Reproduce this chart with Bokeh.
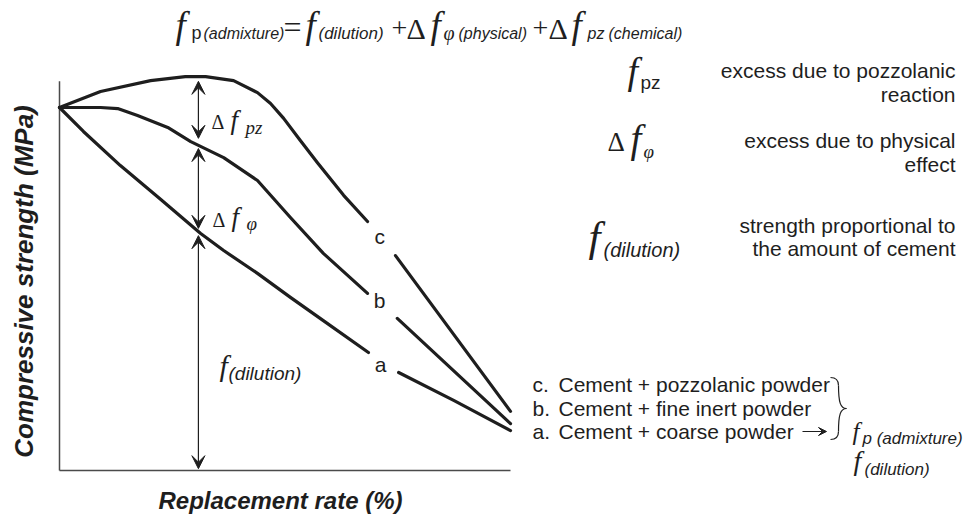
import math
from bokeh.plotting import figure
from bokeh.models import Range1d, Arrow, VeeHead, Label, ColumnDataSource
from bokeh.embed import file_html
from bokeh.resources import INLINE

nan = float("nan")

# ---- data (replacement rate %, relative compressive strength) ----
c_x = [0, 9.1, 20.2, 27.9, 32.4, 38.6, 43.9, 46.8, 49.7, 53.4, 57.2, 63.0, 68.3, nan, 74.5, 100]
c_y = [100, 104.4, 107.4, 108.5, 108.5, 107.4, 104.1, 101.1, 97.0, 90.9, 84.8, 75.8, 68.6, nan, 59.2, 16.3]

b_x = [0, 9.1, 12.9, 17.3, 24.0, 29.1, 36.4, 43.9, 51.2, 58.5, 68.3, nan, 74.9, 100]
b_y = [100, 100, 99.7, 97.8, 94.5, 90.6, 86.2, 79.9, 69.7, 59.8, 48.8, nan, 41.9, 12.9]

a_x = [0, 5.3, 13.5, 22.4, 31.3, 36.4, 43.9, 51.2, 58.5, 68.5, nan, 75.2, 87.4, 100]
a_y = [100, 93.4, 84.0, 74.7, 65.3, 60.6, 54.3, 47.7, 41.3, 32.5, nan, 27.0, 19.3, 11.0]

curve_labels = ["c", "b", "a"]
curve_label_x = [71.0, 71.0, 71.2]
curve_label_y = [64.6, 46.7, 29.1]

# axis extents (x: replacement rate, y: strength)
axis_x_end = 100
axis_y_end = 107.2

# vertical double arrows at one replacement rate: start/end strength levels
arrow_x = 30.8
arrow_top = [107.2, 88.7, 64.7]
arrow_bottom = [91.5, 66.7, 0.5]

legend_keys = ["c.", "b.", "a."]
legend_items = ["Cement + pozzolanic powder", "Cement + fine inert powder", "Cement + coarse powder"]

# ---- geometry helpers (picture pixel -> data) ----
SX, SY, X0, Y0 = 4.51, 3.63, 59, 470
W, H = 963, 517
def dx(ix):
    return (ix - X0) / SX
def dy(iy):
    return (Y0 - iy) / SY

p = figure(width=W, height=H, output_backend="svg", toolbar_location=None, title=None,
           x_axis_type=None, y_axis_type=None, min_border=0,
           x_range=Range1d(dx(0), dx(W)), y_range=Range1d(dy(H), dy(0)))
p.outline_line_color = None
p.grid.visible = False
p.background_fill_color = "white"

INK = "#1e1e1e"
SANS = "Liberation Sans"
SERIF = "Liberation Serif"
SHIFT = 0.3  # baseline correction, in em

# axes lines
p.segment(x0=[0, 0], y0=[0, 0], x1=[axis_x_end, 0], y1=[0, axis_y_end],
          line_color="#4a4a4a", line_width=1.5)

for xs, ys in ((c_x, c_y), (b_x, b_y), (a_x, a_y)):
    p.line(xs, ys, line_width=3.2, line_color=INK, line_join="round", line_cap="round")

src = ColumnDataSource(dict(x=curve_label_x, y=curve_label_y, t=curve_labels))
p.text("x", "y", text="t", source=src, text_font={"value": SANS}, text_font_size="21px",
       text_align="center", text_baseline="alphabetic", text_color=INK)

for t0, b0 in zip(arrow_top, arrow_bottom):
    p.add_layout(Arrow(x_start=arrow_x, y_start=b0, x_end=arrow_x, y_end=t0,
                       line_width=1.2, line_color=INK,
                       start=VeeHead(size=13, fill_color=INK, line_color=INK, line_width=1),
                       end=VeeHead(size=13, fill_color=INK, line_color=INK, line_width=1)))

def lab(txt, ix, iy, size, font=SANS, style="normal", align="left", angle=0.0):
    if angle:
        ix = ix - SHIFT * size
    else:
        iy = iy - SHIFT * size
    p.add_layout(Label(x=dx(ix), y=dy(iy), text=txt, text_font=font,
                       text_font_size=f"{size}px", text_font_style=style, angle=angle,
                       text_align=align, text_baseline="alphabetic", text_color=INK))

# axis titles
lab("Replacement rate (%)", 280, 507, 24, SANS, "bold italic", "center")
lab("Compressive strength (MPa)", 31, 281, 26, SANS, "bold italic", "center", math.pi / 2)

# in-plot annotations
lab("\u0394", 211, 127, 20, SERIF)
lab("f", 230, 128, 27, SERIF, "italic")
lab("pz", 245, 133, 19, SERIF, "italic")
lab("\u0394", 212, 225, 20, SERIF)
lab("f", 231, 225, 27, SERIF, "italic")
lab("\u03c6", 246, 229, 19, SERIF, "italic")
lab("f", 219, 374, 30, SERIF, "italic")
lab("(dilution)", 228, 379, 19, SANS, "italic")

# formula at top
FS = 37
FB = 36
lab("f", 175, FB, FS, SERIF, "italic")
lab("p", 191, 38, 18, SANS)
lab("(admixture)", 203, 38, 16, SANS, "italic")
lab("=", 283, 36, 32, SERIF)
lab("f", 305, FB, FS, SERIF, "italic")
lab("(dilution)", 318, 38, 17, SANS, "italic")
lab("+", 391, 36, 28, SERIF)
lab("\u0394", 406, 37, 30, SERIF)
lab("f", 430, FB, FS, SERIF, "italic")
lab("\u03c6", 443, 38, 20, SERIF, "italic")
lab("(physical)", 458, 38, 16, SANS, "italic")
lab("+", 532, 36, 28, SERIF)
lab("\u0394", 548, 37, 30, SERIF)
lab("f", 571, FB, FS, SERIF, "italic")
lab("pz", 587, 38, 16, SANS, "italic")
lab("(chemical)", 608, 38, 16, SANS, "italic")

# right explanations
lab("f", 627, 82, 38, SERIF, "italic")
lab("pz", 640, 88, 19, SANS)
lab("excess due to pozzolanic", 955, 76, 21, align="right")
lab("reaction", 955, 100, 21, align="right")
lab("\u0394", 607, 150, 27, SERIF)
lab("f", 630, 150, 39, SERIF, "italic")
lab("\u03c6", 643, 157, 19, SERIF, "italic")
lab("excess due to physical", 955, 146, 21, align="right")
lab("effect", 955, 170, 21, align="right")
lab("f", 588, 249, 43, SERIF, "italic")
lab("(dilution)", 603, 255, 20, SANS, "italic")
lab("strength proportional to", 955, 231, 21, align="right")
lab("the amount of cement", 955, 254, 21, align="right")

# legend
for key, txt, base in zip(legend_keys, legend_items, (390, 414, 437)):
    lab(key, 532, base, 21)
    lab(txt, 558, base, 21)

# brace
bz = [(830, 377, 838, 385, 836, 377, 838, 380),
      (838, 385, 846, 408, 838, 402, 840, 408),
      (846, 408, 838, 431, 840, 408, 838, 414),
      (838, 431, 830, 439, 838, 436, 836, 439)]
p.bezier(x0=[dx(s[0]) for s in bz], y0=[dy(s[1]) for s in bz],
         x1=[dx(s[2]) for s in bz], y1=[dy(s[3]) for s in bz],
         cx0=[dx(s[4]) for s in bz], cy0=[dy(s[5]) for s in bz],
         cx1=[dx(s[6]) for s in bz], cy1=[dy(s[7]) for s in bz],
         line_color=INK, line_width=1.2)
lab("f", 852, 438, 25, SERIF, "italic")
lab("p (admixture)", 862, 443, 17, SANS, "italic")

p.add_layout(Arrow(x_start=dx(802), y_start=dy(431), x_end=dx(826), y_end=dy(431),
                   line_width=1.2, line_color=INK,
                   end=VeeHead(size=8, fill_color=INK, line_color=INK, line_width=1)))
lab("f", 853, 468, 28, SERIF, "italic")
lab("(dilution)", 864, 474, 17, SANS, "italic")

open("out.html", "w").write(file_html(p, INLINE))
